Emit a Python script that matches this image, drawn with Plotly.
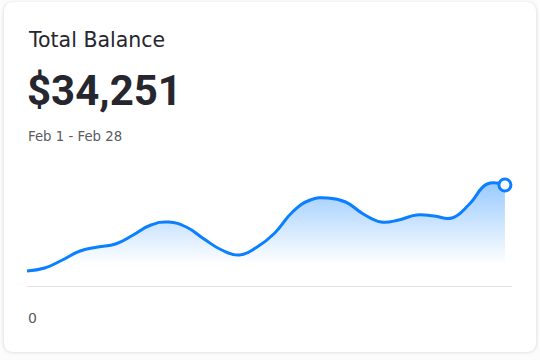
import plotly.graph_objects as go

# ---- data ----
days = list(range(1, 29))
balance = [15, 18, 26, 35, 39, 42, 51, 61, 64, 59, 47, 36, 31, 39, 53, 74,
           86, 88, 84, 72, 64, 66, 71, 70, 68, 82, 102, 101]
title_text = "Total Balance"
total_text = "$34,251"
period_text = "Feb 1 - Feb 28"
y_tick_label = "0"

W, H = 540, 360
BLUE = "#0A7FFF"

fig = go.Figure()

fig.add_trace(go.Scatter(
    x=days, y=balance, mode="lines",
    line=dict(color=BLUE, width=3, shape="spline", smoothing=1.3),
    fill="tozeroy",
    fillgradient=dict(
        type="vertical",
        colorscale=[[0, "rgba(10,127,255,0)"], [1, "rgba(10,127,255,0.42)"]],
        start=22, stop=104,
    ),
    hoverinfo="skip", showlegend=False,
))
fig.add_trace(go.Scatter(
    x=days[-1:], y=balance[-1:], mode="markers",
    marker=dict(size=12, color="white", line=dict(color=BLUE, width=3)),
    cliponaxis=False, hoverinfo="skip", showlegend=False,
))

def px(x):
    return x / W

def py(y):
    return 1 - y / H

def rrect_px(x0, y0, x1, y1, r):
    rx, ry = r / W, r / H
    X0, X1 = px(x0), px(x1)
    Y0, Y1 = py(y0), py(y1)
    return (f"M {X0+rx},{Y0} L {X1-rx},{Y0} Q {X1},{Y0} {X1},{Y0-ry} "
            f"L {X1},{Y1+ry} Q {X1},{Y1} {X1-rx},{Y1} L {X0+rx},{Y1} "
            f"Q {X0},{Y1} {X0},{Y1+ry} L {X0},{Y0-ry} Q {X0},{Y0} {X0+rx},{Y0} Z")

shapes = []
for g, a in [(3, 0.015), (2, 0.02), (1, 0.03)]:
    shapes.append(dict(type="path", xref="paper", yref="paper",
                       path=rrect_px(4 - g, 2 - g + 1, 536 + g, 352 + g, 10 + g),
                       fillcolor=f"rgba(0,0,0,{a})", line=dict(width=0), layer="below"))
shapes.append(dict(type="path", xref="paper", yref="paper",
                   path=rrect_px(4, 2, 536, 352, 10),
                   fillcolor="white", line=dict(width=0), layer="below"))

annotations = [
    dict(text=title_text, x=px(26), y=py(40), xref="paper", yref="paper",
         xanchor="left", yanchor="middle", showarrow=False,
         font=dict(family="DejaVu Sans", size=20.5, color="#26262e")),
    dict(text=f"<b>{total_text}</b>", x=px(25), y=py(90), xref="paper", yref="paper",
         xanchor="left", yanchor="middle", showarrow=False,
         font=dict(family="Roboto", size=42, color="#26262e")),
    dict(text=period_text, x=px(26), y=py(136), xref="paper", yref="paper",
         xanchor="left", yanchor="middle", showarrow=False,
         font=dict(family="DejaVu Sans", size=13.3, color="#5a5a63")),
    dict(text=y_tick_label, x=px(26), y=py(318), xref="paper", yref="paper",
         xanchor="left", yanchor="middle", showarrow=False,
         font=dict(family="DejaVu Sans", size=14, color="#5a5a63")),
]

fig.update_layout(
    width=W, height=H,
    margin=dict(l=0, r=0, t=0, b=0),
    paper_bgcolor="#fcfcfc", plot_bgcolor="rgba(0,0,0,0)",
    shapes=shapes, annotations=annotations,
    xaxis=dict(domain=[px(27), px(512)], range=[1, 28.4],
               showgrid=False, zeroline=False, showticklabels=False, fixedrange=True),
    yaxis=dict(domain=[py(286), py(176)], range=[0, 110],
               showgrid=False, zeroline=True, zerolinecolor="#e3e3e6", zerolinewidth=1,
               showticklabels=False, fixedrange=True),
    showlegend=False,
)

fig.write_html("out.html", config={"displayModeBar": False})
